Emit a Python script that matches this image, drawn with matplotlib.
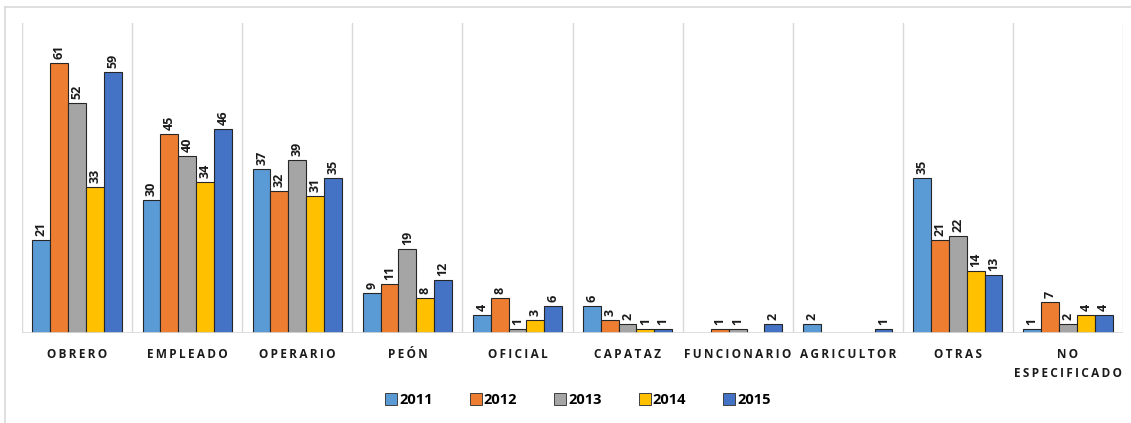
import matplotlib
matplotlib.use("Agg")
import matplotlib.pyplot as plt
from matplotlib.lines import Line2D
import numpy as np

categories = ["OBRERO", "EMPLEADO", "OPERARIO", "PEÓN", "OFICIAL", "CAPATAZ",
              "FUNCIONARIO", "AGRICULTOR", "OTRAS", "NO\nESPECIFICADO"]
years = ["2011", "2012", "2013", "2014", "2015"]
v2011 = [21, 30, 37, 9, 4, 6, 0, 2, 35, 1]
v2012 = [61, 45, 32, 11, 8, 3, 1, 0, 21, 7]
v2013 = [52, 40, 39, 19, 1, 2, 1, 0, 22, 2]
v2014 = [33, 34, 31, 8, 3, 1, 0, 0, 14, 4]
v2015 = [59, 46, 35, 12, 6, 1, 2, 1, 13, 4]
colors = ["#5B9BD5", "#ED7D31", "#A5A5A5", "#FFC000", "#4472C4"]

series = [v2011, v2012, v2013, v2014, v2015]
fam = ["Open Sans", "DejaVu Sans"]

fig = plt.figure(figsize=(11.31, 4.23), dpi=100)
W, H = 1131, 423
ax = fig.add_axes([22 / W, (H - 333) / H, 1101 / W, 310 / H])

x = np.arange(len(categories))
bw = 0.162
for i, vals in enumerate(series):
    off = (i - 2) * bw
    for xi, v in zip(x, vals):
        if v == 0:
            continue
        ax.bar(xi + off, v, bw, color=colors[i], edgecolor="#262626",
               linewidth=0.8, zorder=3)
        ax.text(xi + off, v + 0.9, str(v), rotation=90, ha="center",
                va="bottom", fontsize=9, fontweight="bold", family=fam,
                color="#1a1a1a")

ax.set_xlim(-0.5, len(categories) - 0.5)
ax.set_ylim(0, 70)
for b in np.arange(-0.5, len(categories), 1.0):
    ax.axvline(b, color="#D9D9D9", linewidth=1, zorder=1)
for s in ax.spines.values():
    s.set_visible(False)
ax.axhline(0, color="#D9D9D9", linewidth=1.2, zorder=4)
ax.set_yticks([])
ax.set_xticks([])

# letter-spaced category names
def spaced(t):
    return "\n".join("\u2009".join(ch for ch in line) for line in t.split("\n"))

for xi, c in zip(x, categories):
    ax.text(xi, -3.3, spaced(c), ha="center", va="top", fontsize=8.5,
            fontweight="bold", family=fam, color="#1a1a1a", linespacing=1.6)

handles = [Line2D([0], [0], marker="s", linestyle="", markersize=8,
                  markerfacecolor=c, markeredgecolor="#404040",
                  markeredgewidth=0.7) for c in colors]
leg = fig.legend(handles, years, loc="center", bbox_to_anchor=(578 / W, (H - 400) / H),
                 ncol=5, frameon=False, columnspacing=2.55, handletextpad=0.15,
                 handlelength=0.8, prop={"family": fam, "weight": "bold", "size": 10.5})

# outer chart border (left and top edges visible)
fig.add_artist(Line2D([5 / W, 5 / W], [0, (H - 7) / H], color="#D9D9D9", linewidth=1.2,
                      transform=fig.transFigure))
fig.add_artist(Line2D([5 / W, 1], [(H - 7) / H, (H - 7) / H], color="#D9D9D9",
                      linewidth=1.2, transform=fig.transFigure))

fig.savefig("out.png", dpi=100)
